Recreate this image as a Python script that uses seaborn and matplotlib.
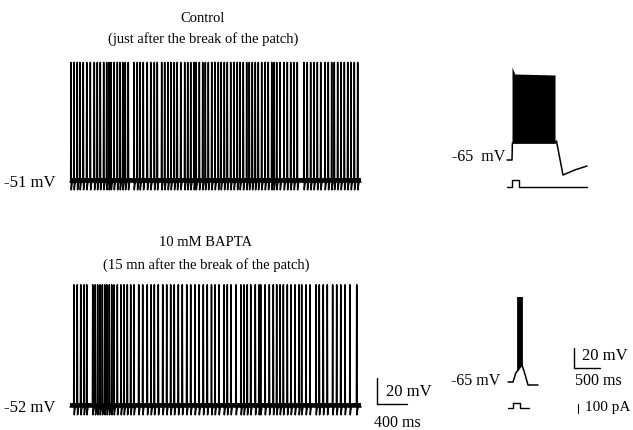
import matplotlib
matplotlib.use('Agg')
import matplotlib.pyplot as plt
import seaborn as sns
import pandas as pd

# spike times (ms)
control_spikes = [13, 53, 97, 133, 177, 223, 271, 324, 364, 404, 449, 489, 520, 547, 587,
                  631, 667, 703, 737, 777, 853, 897, 933, 977, 1030, 1076, 1124, 1164, 1222,
                  1262, 1306, 1346, 1390, 1430, 1476, 1529, 1569, 1609, 1653, 1680, 1724,
                  1769, 1804, 1844, 1889, 1933, 1977, 2013, 2057, 2097, 2142, 2186, 2230,
                  2266, 2310, 2355, 2390, 2430, 2470, 2510, 2555, 2600, 2643, 2689, 2719,
                  2755, 2800, 2853, 2897, 2942, 2986, 3030, 3119, 3163, 3208, 3252, 3297,
                  3342, 3399, 3443, 3488, 3523, 3568, 3612, 3657, 3702, 3746, 3790, 3835]
bapta_spikes = [53, 97, 143, 187, 223, 303, 337, 369, 400, 431, 463, 493, 524, 556, 587,
                631, 680, 720, 764, 809, 853, 916, 969, 1030, 1080, 1124, 1177, 1236, 1289,
                1342, 1390, 1444, 1497, 1556, 1609, 1666, 1720, 1777, 1830, 1886, 1933,
                1986, 2053, 2097, 2146, 2213, 2279, 2319, 2363, 2409, 2470, 2519, 2542,
                2600, 2657, 2710, 2755, 2800, 2844, 2897, 2946, 2999, 3052, 3088, 3146,
                3199, 3279, 3323, 3376, 3430, 3501, 3555, 3609, 3666, 3732, 3822]
control_rest, bapta_rest = -51, -52
control_peak, bapta_peak = 41, 42
ahp_depth = 6
trace_end = 3880

# insets: time ms, voltage mV, current pA
ctrl_inset_t = [0, 96, 104, 922, 950, 1075, 1300, 1536]
ctrl_inset_v = [-65, -65, -48, -48, -46, -80, -75, -71]
ctrl_block_t = [96, 150, 922]
ctrl_block_top = [28, 21, 20]
ctrl_block_bottom = [-48, -48, -48]
ctrl_current_t = [0, 96, 96, 230, 230, 1536]
ctrl_current_i = [0, 0, 80, 80, 0, 0]

bapta_inset_t = [0, 96, 150, 269, 330, 384, 576]
bapta_inset_v = [-65, -65, -56, -48, -58, -68, -68]
bapta_inset_spikes = [185, 205, 225, 245, 265]
bapta_spike_base = [-54, -52, -50, -49, -48]
bapta_spike_peak = 20
bapta_current_t = [0, 96, 96, 230, 230, 403]
bapta_current_i = [0, 0, 55, 55, 0, 0]

W, H = 633, 430
MS_PX, MV_PX = 13.33, 1.3          # long traces
IN_MS_PX, IN_MV_PX, PA_PX = 19.2, 1.0, 0.09  # insets

sns.set_theme(style="white")
plt.rcParams['font.family'] = ['Liberation Serif', 'DejaVu Serif']
fig = plt.figure(figsize=(W / 100, H / 100), dpi=100)


def px_axes(left, top, right, bottom, x0, base_y, base_v, ms_px, unit_px):
    ax = fig.add_axes([left / W, 1 - bottom / H, (right - left) / W, (bottom - top) / H])
    ax.set_xlim((left - x0) * ms_px, (right - x0) * ms_px)
    ax.set_ylim(base_v - (bottom - base_y) / unit_px, base_v + (base_y - top) / unit_px)
    ax.set_axis_off()
    return ax


def label(x, y, s, ha='left', size=11.5):
    fig.text(x / W, 1 - y / H, s, ha=ha, va='center', fontsize=size, color='black')


def spike_trace(spikes, rest, peak):
    t, v = [0], [rest]
    for s in spikes:
        t += [s - 4, s, s + 4, s + 9, s + 18]
        v += [rest, peak, rest - ahp_depth, rest - ahp_depth * 0.5, rest]
    t.append(trace_end)
    v.append(rest)
    return pd.DataFrame({'t': t, 'v': v})


def long_trace(ax, spikes, rest, peak):
    sns.lineplot(data=spike_trace(spikes, rest, peak), x='t', y='v',
                 sort=False, estimator=None, color='black', lw=1.1, ax=ax)
    # noisy resting band looks like a thick line in the recording
    sns.lineplot(x=[0, trace_end], y=[rest + 1.5, rest + 1.5], color='black', lw=2.8,
                 solid_capstyle='butt', ax=ax)
    ax.set_axis_off()


# long recordings
ax_top = px_axes(68, 50, 362, 200, 70, 182, control_rest, MS_PX, MV_PX)
long_trace(ax_top, control_spikes, control_rest, control_peak)

ax_bot = px_axes(68, 275, 440, 430, 70, 407, bapta_rest, MS_PX, MV_PX)
long_trace(ax_bot, bapta_spikes, bapta_rest, bapta_peak)
# scale bar 20 mV / 400 ms
sb_t, sb_v = (377 - 70) * MS_PX, bapta_rest + (407 - 404) / MV_PX
ax_bot.plot([sb_t, sb_t, sb_t + 400], [sb_v + 20, sb_v, sb_v], color='black', lw=1)

# control inset
ax_ci = px_axes(500, 55, 620, 178, 507, 160, -65, IN_MS_PX, IN_MV_PX)
ax_ci.fill_between(ctrl_block_t, ctrl_block_bottom, ctrl_block_top, color='black', lw=0)
sns.lineplot(x=ctrl_inset_t, y=ctrl_inset_v, sort=False, estimator=None,
             color='black', lw=1.1, ax=ax_ci)
ax_ci.set_axis_off()
ax_cc = px_axes(500, 176, 620, 194, 507, 187, 0, IN_MS_PX, PA_PX)
sns.lineplot(x=ctrl_current_t, y=ctrl_current_i, sort=False, estimator=None,
             color='black', lw=1.0, ax=ax_cc)
ax_cc.set_axis_off()

# BAPTA inset
ax_bi = px_axes(500, 290, 633, 392, 508, 382, -65, IN_MS_PX, IN_MV_PX)
sns.lineplot(x=bapta_inset_t, y=bapta_inset_v, sort=False, estimator=None,
             color='black', lw=1.1, ax=ax_bi)
ax_bi.vlines(bapta_inset_spikes, bapta_spike_base, bapta_spike_peak, color='black', lw=1.3)
ax_bi.set_axis_off()
isb_t, isb_v = (574 - 508) * IN_MS_PX, -65 + (382 - 368) / IN_MV_PX
ax_bi.plot([isb_t, isb_t, isb_t + 500], [isb_v + 20, isb_v, isb_v], color='black', lw=1)

ax_bc = px_axes(500, 396, 633, 416, 508, 408, 0, IN_MS_PX, PA_PX)
sns.lineplot(x=bapta_current_t, y=bapta_current_i, sort=False, estimator=None,
             color='black', lw=1.0, ax=ax_bc)
pa_t = (578 - 508) * IN_MS_PX
ax_bc.plot([pa_t, pa_t], [-50, 50], color='black', lw=0.8)
ax_bc.set_axis_off()

# text
label(203, 18, 'Control', ha='center', size=10.5)
label(203, 39, '(just after the break of the patch)', ha='center', size=10.5)
label(206, 243, '10 mM BAPTA', ha='center', size=10.5)
label(206, 265, '(15 mn after the break of the patch)', ha='center', size=10.5)
label(4, 183, '-51 mV', size=12)
label(4, 408, '-52 mV', size=12)
label(505, 157, '-65  mV', ha='right')
label(500, 381, '-65 mV', ha='right')
label(386, 392, '20 mV', size=12)
label(374, 423, '400 ms')
label(582, 356, '20 mV', size=12)
label(575, 381, '500 ms')
label(585, 408, '100 pA', size=11)

fig.savefig('out.png', dpi=100)
